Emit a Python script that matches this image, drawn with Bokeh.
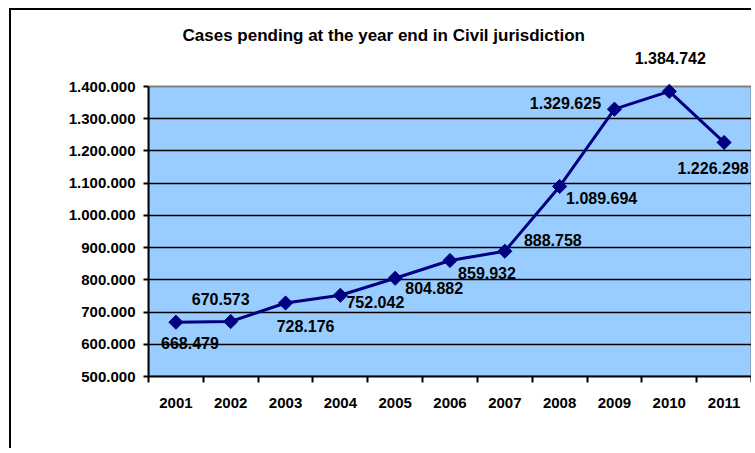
from bokeh.plotting import figure
from bokeh.models import ColumnDataSource, LabelSet, Label, FixedTicker, Range1d
from bokeh.core.properties import value
from bokeh.embed import file_html
from bokeh.resources import INLINE

years = ["2001", "2002", "2003", "2004", "2005", "2006", "2007", "2008", "2009", "2010", "2011"]
pending = [668479, 670573, 728176, 752042, 804882, 859932, 888758, 1089694, 1329625, 1384742, 1226298]
y_ticks = [500000, 600000, 700000, 800000, 900000, 1000000, 1100000, 1200000, 1300000, 1400000]
title_text = "Cases pending at the year end in Civil jurisdiction"

# label placement offsets (screen px)
label_dx = [14, -10, 20, 35, 39, 37, 48, 42, -49, 1, -11]
label_dy = [-21, 23, -23, -7, -10, -12, 11, -12, 6, 33, -26]


def fmt(v):
    return "{:,}".format(v).replace(",", ".")


xs = [i + 0.5 for i in range(len(years))]
src = ColumnDataSource(dict(x=xs, y=pending, lab=[fmt(v) for v in pending],
                            dx=label_dx, dy=label_dy))

FONT = "Liberation Sans"

# layout: plot area 290 px tall, 76 px of free room above it inside the frame
PLOT_H, TOP_PAD = 290, 76
y_lo, y_hi = y_ticks[0], y_ticks[-1]
y_end = y_hi + (y_hi - y_lo) * TOP_PAD / PLOT_H

p = figure(width=742, height=440, output_backend="svg", toolbar_location=None,
           x_range=Range1d(0, len(years)), y_range=Range1d(y_lo, y_end),
           min_border_left=137, min_border_top=0, min_border_right=2, min_border_bottom=74)
p.styles = {"margin-left": "9px", "margin-top": "8px",
            "border-left": "2px solid #000", "border-top": "2px solid #000"}

p.background_fill_color = "white"
p.border_fill_color = "white"
p.outline_line_color = None

# plot area
p.quad(left=0, right=len(years), bottom=y_lo, top=y_hi, fill_color="#99CCFF",
       line_color="#808080", line_width=2, level="image")

# axes
p.xaxis.ticker = FixedTicker(ticks=xs, minor_ticks=list(range(len(years) + 1)))
p.xaxis.major_label_overrides = {x: y for x, y in zip(xs, years)}
p.xaxis.major_tick_out = 0
p.xaxis.major_tick_in = 0
p.xaxis.minor_tick_out = 6
p.xaxis.minor_tick_in = 0
p.xaxis.minor_tick_line_color = "black"
p.xaxis.minor_tick_line_width = 2
p.xaxis.major_label_standoff = 15

p.yaxis.ticker = FixedTicker(ticks=y_ticks)
p.yaxis.bounds = (y_lo, y_hi)
p.yaxis.major_label_overrides = {v: fmt(v) for v in y_ticks}
p.yaxis.major_tick_out = 5
p.yaxis.major_tick_in = 0
p.yaxis.minor_tick_line_color = None
p.yaxis.major_label_standoff = 8

for ax in (p.xaxis, p.yaxis):
    ax.axis_line_color = "black"
    ax.axis_line_width = 2
    ax.major_tick_line_color = "black"
    ax.major_tick_line_width = 2
    ax.major_label_text_font = FONT
    ax.major_label_text_font_size = "15px"
    ax.major_label_text_font_style = "bold"
    ax.major_label_text_color = "black"

p.xgrid.grid_line_color = None
p.ygrid.ticker = FixedTicker(ticks=y_ticks[1:-1])
p.ygrid.grid_line_color = "black"
p.ygrid.grid_line_width = 1.5

p.line("x", "y", source=src, line_color="#000080", line_width=3)
p.scatter("x", "y", source=src, marker="square", angle=0.785398, size=10,
          fill_color="#000080", line_color="#000080")

labels = LabelSet(x="x", y="y", text="lab", source=src, x_offset="dx", y_offset="dy",
                  text_align="center", text_baseline="middle",
                  text_font=value(FONT), text_font_size=value("16px"),
                  text_font_style="bold", text_color="black")
p.add_layout(labels)

title = Label(x=34, y=341, x_units="screen", y_units="screen", text=title_text,
              text_align="left", text_baseline="middle",
              text_font=FONT, text_font_size="17px", text_font_style="bold",
              text_color="black")
p.add_layout(title)

open("out.html", "w").write(file_html(p, INLINE))
